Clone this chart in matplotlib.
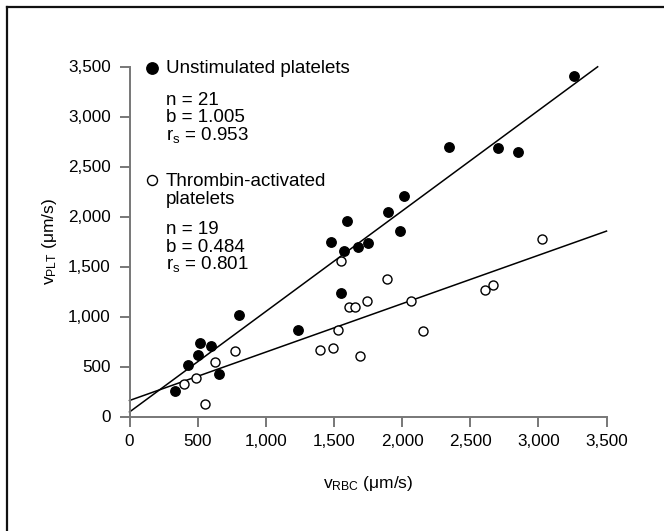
import matplotlib
matplotlib.use("Agg")
import matplotlib.pyplot as plt
from matplotlib.ticker import FuncFormatter
from matplotlib.lines import Line2D
import numpy as np

plt.rcParams['font.family'] = ['Liberation Sans', 'DejaVu Sans']
plt.rcParams['mathtext.fontset'] = 'custom'
plt.rcParams['mathtext.rm'] = 'Liberation Sans'
plt.rcParams['mathtext.it'] = 'Liberation Sans'

# Unstimulated platelets (filled)
unstim_rbc = [337, 430, 502, 516, 597, 659, 804, 1239, 1552, 1475, 1598, 1576,
              1677, 1750, 1898, 1984, 2011, 2348, 2707, 2847, 3263]
unstim_plt = [253, 513, 617, 737, 710, 427, 1017, 870, 1240, 1750, 1953, 1660,
              1693, 1733, 2050, 1860, 2203, 2693, 2687, 2647, 3407]
# Thrombin-activated platelets (open)
thromb_rbc = [401, 489, 556, 627, 777, 1397, 1490, 1527, 1552, 1610, 1652, 1741,
              1692, 1891, 2063, 2151, 2606, 2670, 3027]
thromb_plt = [327, 387, 127, 543, 660, 667, 690, 867, 1560, 1093, 1093, 1157,
              610, 1373, 1157, 857, 1270, 1313, 1777]

# regression lines (intercept, slope, x-range)
unstim_fit = (45, 1.005, 0, 3435)
thromb_fit = (160, 0.484, 0, 3500)

xticks = [0, 500, 1000, 1500, 2000, 2500, 3000, 3500]
yticks = [0, 500, 1000, 1500, 2000, 2500, 3000, 3500]

W, H = 664, 531
fig = plt.figure(figsize=(W / 100, H / 100), dpi=100)
ax_l, ax_r, ax_b, ax_t = 129.5, 606.5, 416.5, 66.5
ax = fig.add_axes([ax_l / W, (H - ax_b) / H, (ax_r - ax_l) / W, (ax_b - ax_t) / H])

for (a, b, x0, x1) in (unstim_fit, thromb_fit):
    xs = np.array([x0, x1])
    ax.plot(xs, a + b * xs, color='black', lw=1.1, zorder=2, clip_on=False)

ax.plot(unstim_rbc, unstim_plt, 'o', ms=6.8, mfc='black', mec='black', zorder=3, clip_on=False)
ax.plot(thromb_rbc, thromb_plt, 'o', ms=6.5, mfc='white', mec='black', mew=1.0, zorder=3, clip_on=False)

ax.set_xlim(0, 3500)
ax.set_ylim(0, 3500)
ax.set_xticks(xticks)
ax.set_yticks(yticks)
fmt = FuncFormatter(lambda v, p: '{:,.0f}'.format(v))
ax.xaxis.set_major_formatter(fmt)
ax.yaxis.set_major_formatter(fmt)
for s in ('top', 'right'):
    ax.spines[s].set_visible(False)
for s in ('left', 'bottom'):
    ax.spines[s].set_color('#777777')
    ax.spines[s].set_linewidth(1.4)
ax.tick_params(axis='both', direction='out', length=7.5, width=1.4, color='#777777',
               labelsize=12.3, labelcolor='black')
ax.tick_params(axis='y', pad=6)
ax.tick_params(axis='x', pad=5)

ax.set_xlabel(r'v$_{\mathrm{RBC}}$ (μm/s)', fontsize=12.5, labelpad=18)
ax.set_ylabel(r'v$_{\mathrm{PLT}}$ (μm/s)', fontsize=12.5, labelpad=6.5)

def fx(px):
    return px / W

def fy(py):
    return (H - py) / H

fs = 13.5
# legend-like annotations
fig.add_artist(Line2D([fx(152)], [fy(68)], marker='o', ms=8.2, mfc='black', mec='black', ls='none'))
fig.add_artist(Line2D([fx(152)], [fy(180)], marker='o', ms=7.2, mfc='white', mec='black', mew=1.0, ls='none'))
texts = [
    (166, 73, 'Unstimulated platelets'),
    (166, 105, 'n = 21'),
    (166, 122.5, 'b = 1.005'),
    (166, 140, r'r$_{\mathrm{s}}$ = 0.953'),
    (166, 185.5, 'Thrombin-activated'),
    (166, 204, 'platelets'),
    (166, 234, 'n = 19'),
    (166, 252, 'b = 0.484'),
    (166, 269.5, r'r$_{\mathrm{s}}$ = 0.801'),
]
for x, y, t in texts:
    fig.text(fx(x), fy(y), t, fontsize=fs, ha='left', va='baseline')

# outer frame (left and top)
fig.add_artist(Line2D([fx(7), fx(7)], [fy(7), 0], color='#111111', lw=1.6))
fig.add_artist(Line2D([fx(7), 1], [fy(7), fy(7)], color='#111111', lw=1.6))

fig.savefig('out.png', dpi=100)
